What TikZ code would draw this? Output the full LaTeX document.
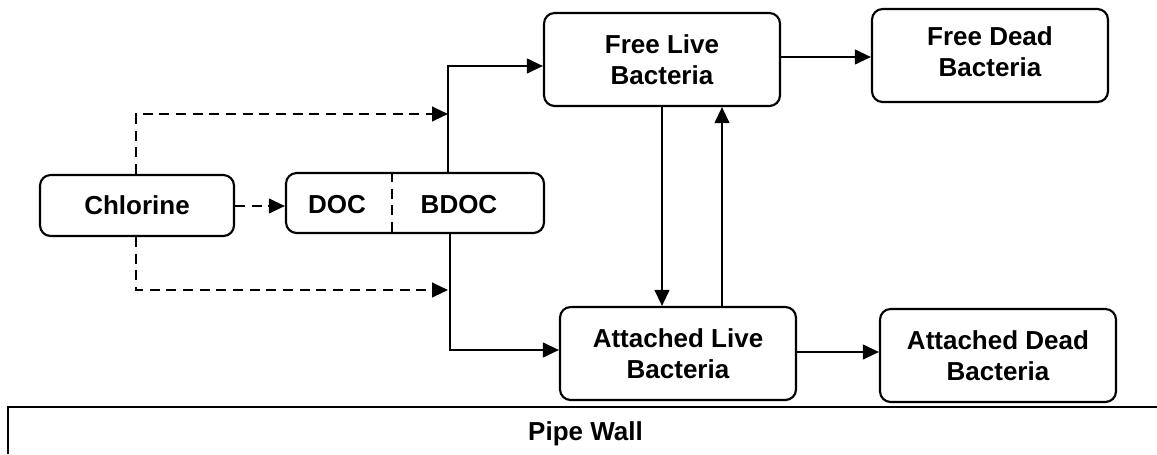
\documentclass[tikz,border=0pt]{standalone}
\usepackage{fontspec}
\setmainfont{Liberation Sans}
\usetikzlibrary{arrows.meta}
\begin{document}
\begin{tikzpicture}[x=0.75pt,y=-0.75pt,
  box/.style={draw,line width=1.6pt,rounded corners=8pt,inner sep=0pt,align=center,
    font=\fontsize{19.5}{23.25}\selectfont\bfseries},
  lbl/.style={inner sep=0pt,font=\fontsize{19.5}{23.25}\selectfont\bfseries},
  conn/.style={line width=1.6pt,-{Triangle[length=12pt,width=11pt]}},
  dconn/.style={conn,dash pattern=on 7.5pt off 5pt},
  plain/.style={line width=1.6pt}]
\useasboundingbox (0,0) rectangle (1157,454);
% boxes
\node[box,minimum width=194*0.75pt,minimum height=61*0.75pt] (chl) at (137,205.5) {Chlorine};
\node[box,minimum width=258*0.75pt,minimum height=60*0.75pt] (doc) at (415,203) {};
\node[lbl] (doct) at (337,205) {DOC};
\node[lbl] (bdoct) at (459,205) {BDOC};
\node[box,minimum width=236*0.75pt,minimum height=93*0.75pt] (fl) at (662,59.5) {Free Live\\Bacteria};
\node[box,minimum width=236*0.75pt,minimum height=93*0.75pt] (fd) at (990,55.5) {Free Dead\\Bacteria\rule[-6pt]{0pt}{0pt}};
\node[box,minimum width=236*0.75pt,minimum height=93*0.75pt] (al) at (678,353.5) {Attached Live\\Bacteria};
\node[box,minimum width=236*0.75pt,minimum height=93*0.75pt] (ad) at (998,355.5) {Attached Dead\\Bacteria};
% divider
\coordinate (dv) at (392,0);
\draw[plain,dash pattern=on 7.5pt off 5pt] (doc.north -| dv) -- (doc.south -| dv);
% chlorine dashed connectors
\coordinate (cx) at (136,0);
\coordinate (t1) at (448,114);
\coordinate (t2) at (448,290);
\coordinate (my) at (0,206);
\draw[dconn] (chl.east |- my) -- (doc.west |- my);
\draw[dconn] (chl.north -| cx) |- (t1);
\draw[dconn] (chl.south -| cx) |- (t2);
% BDOC connectors
\coordinate (bu) at (448,66);
\coordinate (bd) at (450,350);
\draw[conn] (doc.north -| bu) -- (bu) -- (bu -| fl.west);
\draw[conn] (doc.south -| bd) -- (bd) -- (bd -| al.west);
% vertical exchange
\coordinate (dx) at (662,0);
\coordinate (ux) at (722,0);
\draw[conn] (fl.south -| dx) -- (al.north -| dx);
\draw[conn] (al.north -| ux) -- (fl.south -| ux);
% death
\coordinate (y1) at (0,57);
\coordinate (y2) at (0,352);
\draw[conn] (fl.east |- y1) -- (fd.west |- y1);
\draw[conn] (al.east |- y2) -- (ad.west |- y2);
% pipe wall
\coordinate (pw0) at (8,454);
\coordinate (pw1) at (8,407);
\coordinate (pw2) at (1157,407);
\draw[plain] (pw0) -- (pw1) -- (pw2);
\node[lbl] (pwt) at (585.5,433.5) {Pipe Wall};
\end{tikzpicture}
\end{document}
